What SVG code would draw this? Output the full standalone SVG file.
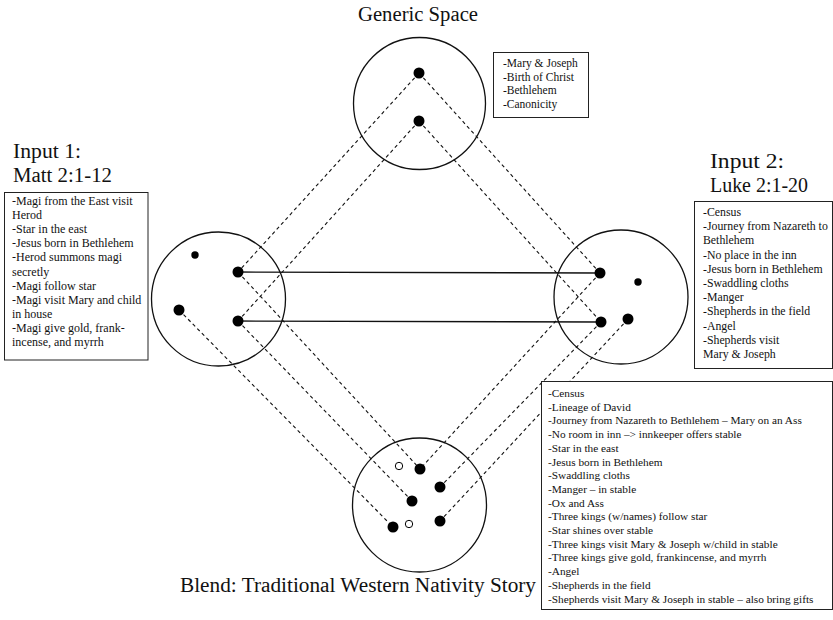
<svg xmlns="http://www.w3.org/2000/svg" width="833" height="620" viewBox="0 0 833 620">
<style>
  .title { font-family: "Liberation Serif", "Times New Roman", serif; font-size: 20px; fill: #111; }
  .item { font-family: "Liberation Serif", "Times New Roman", serif; font-size: 11.5px; fill: #111; }
  .space { fill: none; stroke: #111; stroke-width: 1.3; }
  .box { fill: #fff; stroke: #222; stroke-width: 1; }
  .dot { fill: #000; }
  .hollow { fill: #fff; stroke: #000; stroke-width: 1; }
  .dash { stroke: #111; stroke-width: 1.1; stroke-dasharray: 3.5 3; fill: none; }
  .solid { stroke: #111; stroke-width: 1.3; fill: none; }
</style>
<rect width="833" height="620" fill="#fff"/>

<g id="connectors">
  <line class="dash" x1="419" y1="73" x2="238" y2="272"/>
  <line class="dash" x1="419" y1="73" x2="600" y2="273"/>
  <line class="dash" x1="419" y1="121" x2="238" y2="321"/>
  <line class="dash" x1="419" y1="121" x2="601" y2="322"/>
  <line class="dash" x1="238" y1="272" x2="420" y2="469"/>
  <line class="dash" x1="238" y1="321" x2="412" y2="501"/>
  <line class="dash" x1="179" y1="310" x2="393" y2="527"/>
  <line class="dash" x1="600" y1="273" x2="420" y2="469"/>
  <line class="dash" x1="601" y1="322" x2="440" y2="487"/>
  <line class="dash" x1="628" y1="319" x2="440" y2="521"/>
  <line class="solid" x1="238" y1="272" x2="600" y2="273"/>
  <line class="solid" x1="238" y1="321" x2="601" y2="322"/>
</g>

<g id="generic">
  <text class="title" x="418" y="21" text-anchor="middle" textLength="120" lengthAdjust="spacingAndGlyphs">Generic Space</text>
  <circle class="space" cx="419.5" cy="103.5" r="66"/>
  <circle class="dot" cx="419" cy="73" r="5.5"/>
  <circle class="dot" cx="419" cy="121" r="5.5"/>
  <rect class="box" x="493.5" y="52.5" width="95" height="65"/>
  <text class="item" x="503" y="67">-Mary &amp; Joseph</text>
  <text class="item" x="503" y="80.5">-Birth of Christ</text>
  <text class="item" x="503" y="94">-Bethlehem</text>
  <text class="item" x="503" y="107.5">-Canonicity</text>
</g>

<g id="input1">
  <text class="title" x="13" y="158" textLength="68" lengthAdjust="spacingAndGlyphs">Input 1:</text>
  <text class="title" x="13" y="182" textLength="99" lengthAdjust="spacingAndGlyphs">Matt 2:1-12</text>
  <circle class="space" cx="218.5" cy="299" r="67"/>
  <circle class="dot" cx="195" cy="255" r="3.7"/>
  <circle class="dot" cx="238" cy="272" r="5.5"/>
  <circle class="dot" cx="179" cy="310" r="5.5"/>
  <circle class="dot" cx="238" cy="321" r="5.5"/>
  <rect class="box" x="4.5" y="192.5" width="143.5" height="167.5"/>
  <g class="item" style="font-size:12px">
    <text x="12" y="205">-Magi from the East visit</text>
    <text x="12" y="219.1">Herod</text>
    <text x="12" y="233.2">-Star in the east</text>
    <text x="12" y="247.3">-Jesus born in Bethlehem</text>
    <text x="12" y="261.4">-Herod summons magi</text>
    <text x="12" y="275.5">secretly</text>
    <text x="12" y="289.6">-Magi follow star</text>
    <text x="12" y="303.7">-Magi visit Mary and child</text>
    <text x="12" y="317.8">in house</text>
    <text x="12" y="331.9">-Magi give gold, frank-</text>
    <text x="12" y="346">incense, and myrrh</text>
  </g>
</g>

<g id="input2">
  <text class="title" x="710" y="168" textLength="74" lengthAdjust="spacingAndGlyphs">Input 2:</text>
  <text class="title" x="710" y="192" textLength="98" lengthAdjust="spacingAndGlyphs">Luke 2:1-20</text>
  <circle class="space" cx="621" cy="297" r="67"/>
  <circle class="dot" cx="600" cy="273" r="5.5"/>
  <circle class="dot" cx="638" cy="282" r="3.7"/>
  <circle class="dot" cx="601" cy="322" r="5.5"/>
  <circle class="dot" cx="628" cy="319" r="5.5"/>
  <rect class="box" x="694.5" y="201.5" width="138" height="167"/>
  <g class="item" style="font-size:11.8px">
    <text x="703" y="216">-Census</text>
    <text x="703" y="230.2">-Journey from Nazareth to</text>
    <text x="703" y="244.4">Bethlehem</text>
    <text x="703" y="258.6">-No place in the inn</text>
    <text x="703" y="272.8">-Jesus born in Bethlehem</text>
    <text x="703" y="287">-Swaddling cloths</text>
    <text x="703" y="301.2">-Manger</text>
    <text x="703" y="315.4">-Shepherds in the field</text>
    <text x="703" y="329.6">-Angel</text>
    <text x="703" y="343.8">-Shepherds visit</text>
    <text x="703" y="358">Mary &amp; Joseph</text>
  </g>
</g>

<g id="blend">
  <circle class="space" cx="419.5" cy="505" r="67"/>
  <circle class="hollow" cx="399" cy="466" r="3.7"/>
  <circle class="dot" cx="420" cy="469" r="5.5"/>
  <circle class="dot" cx="440" cy="487" r="5.5"/>
  <circle class="dot" cx="412" cy="501" r="5.5"/>
  <circle class="dot" cx="393" cy="527" r="5.5"/>
  <circle class="hollow" cx="409" cy="524" r="3.7"/>
  <circle class="dot" cx="440" cy="521" r="5.5"/>
  <text class="title" x="180" y="592" textLength="356" lengthAdjust="spacingAndGlyphs">Blend: Traditional Western Nativity Story</text>
  <rect class="box" x="541.5" y="381.5" width="291" height="228"/>
  <g class="item" style="font-size:11.3px">
    <text x="548" y="397">-Census</text>
    <text x="548" y="410.7">-Lineage of David</text>
    <text x="548" y="424.4">-Journey from Nazareth to Bethlehem – Mary on an Ass</text>
    <text x="548" y="438.1">-No room in inn –&gt; innkeeper offers stable</text>
    <text x="548" y="451.8">-Star in the east</text>
    <text x="548" y="465.5">-Jesus born in Bethlehem</text>
    <text x="548" y="479.2">-Swaddling cloths</text>
    <text x="548" y="492.9">-Manger – in stable</text>
    <text x="548" y="506.6">-Ox and Ass</text>
    <text x="548" y="520.3">-Three kings (w/names) follow star</text>
    <text x="548" y="534">-Star shines over stable</text>
    <text x="548" y="547.7">-Three kings visit Mary &amp; Joseph w/child in stable</text>
    <text x="548" y="561.4">-Three kings give gold, frankincense, and myrrh</text>
    <text x="548" y="575.1">-Angel</text>
    <text x="548" y="588.8">-Shepherds in the field</text>
    <text x="548" y="602.5">-Shepherds visit Mary &amp; Joseph in stable – also bring gifts</text>
  </g>
</g>
</svg>
